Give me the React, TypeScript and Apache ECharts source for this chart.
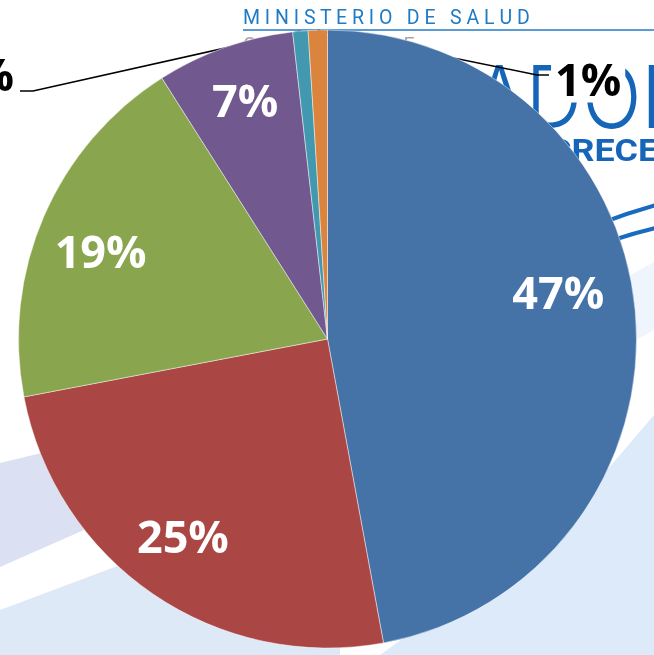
import React, { useEffect, useRef } from 'react';
import * as echarts from 'echarts';

const categories = ['Categoría 1', 'Categoría 2', 'Categoría 3', 'Categoría 4', 'Categoría 5', 'Categoría 6'];
const values = [47.1, 24.9, 19.0, 7.2, 0.8, 1.0];
const colors = ['#4572a7', '#aa4643', '#89a54e', '#71588f', '#4198af', '#db843d'];

const CX = 327.5;
const CY = 339;
const R = 309;

export default function App() {
  const ref = useRef<HTMLDivElement>(null);
  useEffect(() => {
    if (!ref.current) return;
    const chart = echarts.init(ref.current, null, { renderer: 'svg' });
    const total = values.reduce((a, b) => a + b, 0);
    const midAngle = (i: number) => {
      let before = 0;
      for (let k = 0; k < i; k++) before += values[k];
      return ((before + values[i] / 2) / total) * Math.PI * 2;
    };
    // radial placement factor and small nudges of the inside labels (Excel "best fit" look)
    const insideK = [0.75, 0.8, 0.8, 0.8];
    const insideDx = [0, -5, 0, 0];
    const insideDy = [-26, -8, 10, -6];
    const labelLayout = (p: any) => {
      const i = p.dataIndex;
      const a = midAngle(i);
      if (i < 4) {
        const d = R * insideK[i];
        return {
          x: CX + Math.sin(a) * d + insideDx[i],
          y: CY - Math.cos(a) * d + insideDy[i],
          align: 'center',
          verticalAlign: 'middle',
        };
      }
      const start = [CX + Math.sin(a) * R, CY - Math.cos(a) * R];
      if (i === 5) {
        return {
          x: 551,
          y: 78,
          align: 'left',
          verticalAlign: 'middle',
          labelLinePoints: [start, [537, 75], [549, 75]],
        };
      }
      return {
        x: 18,
        y: 73,
        align: 'right',
        verticalAlign: 'middle',
        labelLinePoints: [start, [33, 91], [20, 91]],
      };
    };
    chart.setOption({
      animation: false,
      graphic: {
        elements: [
          { type: 'polygon', shape: { points: [[0, 463], [220, 410], [220, 470], [0, 567]] }, style: { fill: '#dbe0f3' } },
          { type: 'polygon', shape: { points: [[0, 610], [200, 535], [340, 480], [340, 655], [0, 655]] }, style: { fill: '#dee9f8' } },
          { type: 'polygon', shape: { points: [[654, 415], [654, 655], [380, 655], [560, 525]] }, style: { fill: '#ddeafa' } },
          { type: 'polygon', shape: { points: [[654, 262], [654, 330], [600, 360], [600, 292]] }, style: { fill: '#eef5fc' } },
          {
            type: 'text', x: 243, y: 17,
            style: { text: 'M I N I S T E R I O   D E   S A L U D', fill: '#1f7bc4', font: '19.5px Roboto', verticalAlign: 'middle' },
          },
          { type: 'line', shape: { x1: 243, y1: 30, x2: 654, y2: 30 }, style: { stroke: '#5b9bd5', lineWidth: 2 } },
          {
            type: 'text', x: 243, y: 45,
            style: { text: 'G O B I E R N O   D E', fill: '#a6a6a6', font: '19.5px Roboto', verticalAlign: 'middle' },
          },
          {
            type: 'text', x: 691, y: 96, scaleX: 0.9,
            style: { text: 'ADOR', fill: '#1565b8', font: '300 87px Inter', align: 'right', verticalAlign: 'middle' },
          },
          {
            type: 'text', x: 548, y: 150, scaleX: 1.12,
            style: { text: 'CRECER', fill: '#1565b8', font: 'bold 32px Roboto', align: 'left', verticalAlign: 'middle' },
          },
          { type: 'bezierCurve', shape: { x1: 540, y1: 250, cpx1: 600, cpy1: 220, x2: 660, y2: 204 }, style: { stroke: '#1a6bc0', lineWidth: 4, fill: 'none' } },
          { type: 'bezierCurve', shape: { x1: 560, y1: 260, cpx1: 615, cpy1: 237, x2: 660, y2: 227 }, style: { stroke: '#1a6bc0', lineWidth: 4, fill: 'none' } },
        ],
      },
      series: [
        {
          type: 'pie',
          center: [CX, CY],
          radius: R,
          startAngle: 90,
          clockwise: true,
          percentPrecision: 0,
          avoidLabelOverlap: false,
          itemStyle: { borderColor: 'rgba(255,255,255,0.45)', borderWidth: 1 },
          label: { formatter: '{d}%', fontFamily: 'Open Sans', fontWeight: 'bold', fontSize: 45 },
          labelLine: { length: 20, length2: 10 },
          labelLayout,
          data: categories.map((name, i) => ({
            name,
            value: values[i],
            itemStyle: { color: colors[i] },
            label: i < 4
              ? { position: 'inside', color: '#ffffff' }
              : { position: 'outside', color: '#000000', backgroundColor: '#ffffff', padding: [2, 4] },
            labelLine: { show: i >= 4, lineStyle: { color: '#000000', width: 1.5 } },
          })),
        },
      ],
    });
    return () => chart.dispose();
  }, []);
  return <div ref={ref} style={{ position: 'fixed', left: 0, top: 0, width: 654, height: 655 }} />;
}
